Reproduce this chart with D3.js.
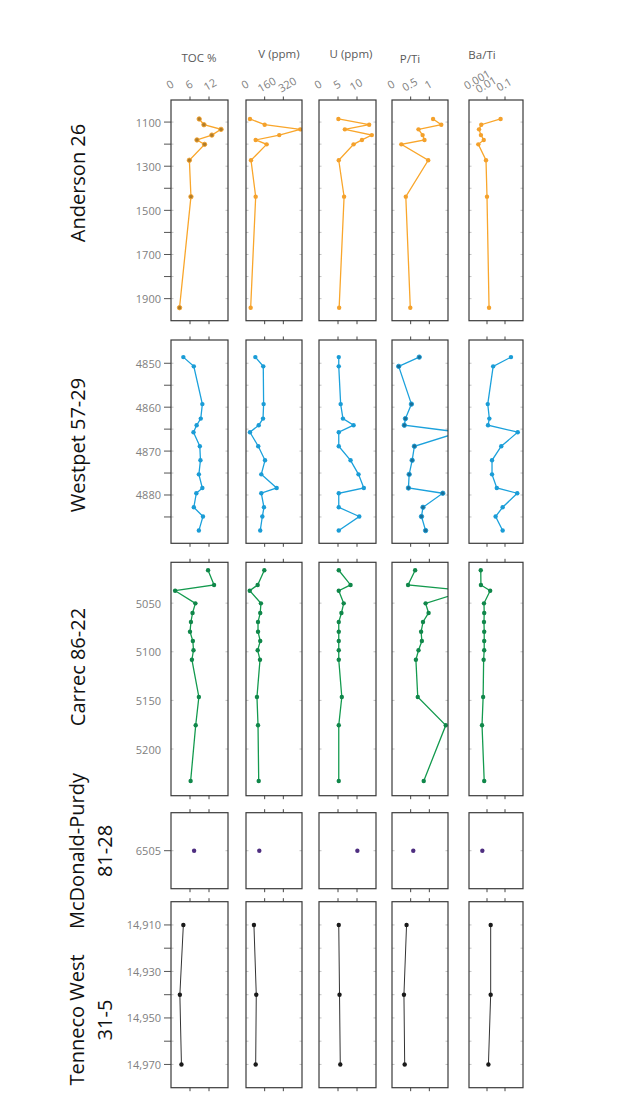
<!DOCTYPE html>
<html><head><meta charset="utf-8">
<script src="https://cdn.jsdelivr.net/npm/d3@7"></script>
<style>body{margin:0;background:#fff}svg text{font-family:"Open Sans",sans-serif}</style>
</head><body><svg id="c" width="620" height="1094"></svg>
<script>
// ---------- data ----------
const columns = ["TOC %", "V (ppm)", "U (ppm)", "P/Ti", "Ba/Ti"];
const xTickValues = [[0, 6, 12], [0, 160, 320], [0, 5, 10], [0, 0.5, 1], [0.001, 0.01, 0.1]];
const xTickLabels = [["0", "6", "12"], ["0", "160", "320"], ["0", "5", "10"], ["0", "0.5", "1"], ["0.001", "0.01", "0.1"]];
const xDomains = [[0, 18], [0, 480], [0, 15], [0, 1.5], [0.001, 1]];

const wellLabels = [["Anderson 26"], ["Westpet 57-29"], ["Carrec 86-22"], ["McDonald-Purdy", "81-28"], ["Tenneco West", "31-5"]];
const depthDomains = [[1000, 2000], [4844.7, 4891], [5008, 5248], [6500, 6510], [14900, 14980]];
const depthMajor = [[1100, 1300, 1500, 1700, 1900], [4850, 4860, 4870, 4880], [5050, 5100, 5150, 5200], [6505], [14910, 14930, 14950, 14970]];
const depthMinor = [[1200, 1400, 1600, 1800], [4855, 4865, 4875, 4885], [], [], [14920, 14940, 14960]];

const andersonDepth = [1086, 1112, 1133, 1159, 1181, 1201, 1273, 1438, 1941];
const andersonTOC = [8.9, 10.4, 15.8, 12.9, 8.2, 10.6, 5.8, 6.3, 2.7];
const andersonV = [34, 160, 465, 285, 83, 177, 43, 83, 40];
const andersonU = [5.1, 13.2, 6.8, 13.9, 11.3, 9.1, 5.2, 6.6, 5.3];
const andersonPTi = [1.10, 1.32, 0.71, 0.82, 0.87, 0.25, 0.97, 0.37, 0.49];
const andersonBaTi = [0.057, 0.0048, 0.0036, 0.0046, 0.0066, 0.0033, 0.0088, 0.010, 0.013];

const westpetDepth = [4848.6, 4850.7, 4859.3, 4862.6, 4864.1, 4865.7, 4868.9, 4872.1, 4875.3, 4878.4, 4879.6, 4882.8, 4884.9, 4888.1];
const westpetTOC = [3.9, 7.2, 9.9, 9.4, 8.1, 7.1, 9.1, 9.3, 8.8, 9.9, 8.0, 7.2, 10.1, 8.8];
const westpetV = [80, 148, 151, 146, 109, 34, 105, 163, 131, 263, 131, 154, 140, 122];
const westpetU = [5.2, 5.2, 5.7, 6.3, 9.1, 5.2, 5.2, 8.3, 10.4, 11.8, 5.2, 5.2, 10.6, 5.2];
const westpetPTi = [0.73, 0.18, 0.52, 0.36, 0.33, 1.8, 0.60, 0.54, 0.46, 0.44, 1.36, 0.83, 0.79, 0.90];
const westpetBaTi = [0.215, 0.022, 0.011, 0.0135, 0.0114, 0.51, 0.062, 0.019, 0.019, 0.035, 0.48, 0.074, 0.030, 0.074];

const carrecDepth = [5016.2, 5031.3, 5037.2, 5050.2, 5060.1, 5069.4, 5079.4, 5089, 5098.5, 5108.2, 5146.5, 5175.6, 5232.9];
const carrecTOC = [11.7, 13.6, 1.3, 7.7, 6.8, 6.3, 6.0, 6.9, 7.1, 6.6, 8.8, 7.8, 6.2];
const carrecV = [157, 100, 32, 128, 122, 103, 103, 122, 100, 120, 94, 103, 109];
const carrecU = [5.2, 8.3, 5.2, 6.5, 5.9, 5.2, 5.2, 5.2, 5.2, 5.2, 6.0, 5.2, 5.2];
const carrecPTi = [0.62, 0.43, 2.0, 0.90, 0.98, 0.83, 0.78, 0.80, 0.71, 0.64, 0.69, 1.44, 0.85];
const carrecBaTi = [0.0045, 0.0046, 0.015, 0.0068, 0.0070, 0.0068, 0.0070, 0.0070, 0.0070, 0.0065, 0.0061, 0.0053, 0.0070];

const mcdonaldDepth = [6505];
const mcdonaldTOC = [7.3];
const mcdonaldV = [114];
const mcdonaldU = [10.1];
const mcdonaldPTi = [0.57];
const mcdonaldBaTi = [0.0055];

const tennecoDepth = [14910, 14940, 14970];
const tennecoTOC = [3.9, 2.8, 3.3];
const tennecoV = [68, 88, 83];
const tennecoU = [5.2, 5.4, 5.6];
const tennecoPTi = [0.39, 0.32, 0.34];
const tennecoBaTi = [0.016, 0.016, 0.012];

// ---------- layout & styles ----------
const wells = [
  {depth: andersonDepth, series: [andersonTOC, andersonV, andersonU, andersonPTi, andersonBaTi]},
  {depth: westpetDepth, series: [westpetTOC, westpetV, westpetU, westpetPTi, westpetBaTi]},
  {depth: carrecDepth, series: [carrecTOC, carrecV, carrecU, carrecPTi, carrecBaTi]},
  {depth: mcdonaldDepth, series: [mcdonaldTOC, mcdonaldV, mcdonaldU, mcdonaldPTi, mcdonaldBaTi]},
  {depth: tennecoDepth, series: [tennecoTOC, tennecoV, tennecoU, tennecoPTi, tennecoBaTi]}
];
const colX = [171, 246, 319, 392, 469];
const colW = [57, 56, 57, 56, 54];
const rowY = [[100, 320.7], [340, 543.3], [562.3, 795.7], [812.7, 888.7], [901.7, 1087.7]];
const lineColor = ["#F9A62B", "#1BA1DC", "#139A4E", "#4E2E80", "#333333"];
const dotColor = ["#F4A12C", "#1A9CD6", "#10874A", "#4E2E80", "#1a1a1a"];
const outerTicks = [true, true, false, true, true];
const labelY = [183, 445, 667, 851, 1020];
const tickLabelDx = [[0, 0, 2], [0, 3, 5], [0, 0, 0], [0, 0, 0], [9, 0, 0]];
const tickLabelDy = [[0, 0, 0], [0, 0, 0], [0, 0, 0], [0, 0, 0], [-5, 0, 0]];

const svg = d3.select("#c");

// headers
const headerPos = [[199, 57], [279, 53], [351, 53], [410, 58], [482, 54]];
columns.forEach((c, i) => {
  svg.append("text").attr("x", headerPos[i][0]).attr("y", headerPos[i][1])
    .attr("text-anchor", "middle").attr("dominant-baseline", "central")
    .attr("font-size", 11.5).attr("fill", "#595959").text(c);
});

wells.forEach((w, r) => {
  const [y0, y1] = rowY[r];
  const y = d3.scaleLinear().domain(depthDomains[r]).range([y0, y1]);

  // depth axis labels & ticks
  const gy = svg.append("g");
  depthMajor[r].forEach(v => {
    gy.append("text").attr("x", 161).attr("y", y(v)).attr("text-anchor", "end")
      .attr("dominant-baseline", "central").attr("font-size", 11).attr("fill", "#808080")
      .text(v >= 10000 ? d3.format(",")(v) : v);
    if (outerTicks[r]) gy.append("line").attr("x1", 164).attr("x2", colX[0]).attr("y1", y(v)).attr("y2", y(v)).attr("stroke", "#555").attr("stroke-width", 1);
  });
  if (outerTicks[r]) depthMinor[r].forEach(v => {
    gy.append("line").attr("x1", 164).attr("x2", colX[0]).attr("y1", y(v)).attr("y2", y(v)).attr("stroke", "#555").attr("stroke-width", 1);
  });

  // well label
  const lines = wellLabels[r];
  const lt = svg.append("text").attr("transform", `translate(${lines.length > 1 ? 90 : 77},${labelY[r]}) rotate(-90)`)
    .attr("text-anchor", "middle").attr("font-size", 20).attr("fill", "#111");
  lines.forEach((t, k) => {
    lt.append("tspan").attr("x", 0).attr("y", (k - (lines.length - 1) / 2) * 28).attr("dominant-baseline", "central").text(t);
  });

  w.series.forEach((vals, c) => {
    const x = (c === 4 ? d3.scaleLog() : d3.scaleLinear()).domain(xDomains[c]).range([colX[c], colX[c] + colW[c]]);
    const g = svg.append("g");
    const clipId = `clip-${r}-${c}`;
    svg.append("clipPath").attr("id", clipId).append("rect")
      .attr("x", colX[c]).attr("y", y0).attr("width", colW[c]).attr("height", y1 - y0);

    // inner depth ticks on panel edges
    depthMajor[r].concat(depthMinor[r]).forEach(v => {
      g.append("line").attr("x1", colX[c]).attr("x2", colX[c] + 2.5).attr("y1", y(v)).attr("y2", y(v)).attr("stroke", "#aaa").attr("stroke-width", 0.7);
      g.append("line").attr("x1", colX[c] + colW[c] - 2.5).attr("x2", colX[c] + colW[c]).attr("y1", y(v)).attr("y2", y(v)).attr("stroke", "#aaa").attr("stroke-width", 0.7);
    });

    // x ticks top & bottom
    xTickValues[c].forEach((v, k) => {
      if (k === 0) return;
      g.append("line").attr("x1", x(v)).attr("x2", x(v)).attr("y1", y0 - 3.5).attr("y2", y0).attr("stroke", "#444").attr("stroke-width", 1);
      g.append("line").attr("x1", x(v)).attr("x2", x(v)).attr("y1", y1).attr("y2", y1 + 3.5).attr("stroke", "#444").attr("stroke-width", 1);
    });
    if (r === 0) {
      xTickValues[c].forEach((v, k) => {
        svg.append("text").attr("transform", `translate(${x(v) + 1 + tickLabelDx[c][k]},${88 + tickLabelDy[c][k]}) rotate(-30)`)
          .attr("text-anchor", "middle").attr("font-size", 11).attr("fill", "#7f7f7f").text(xTickLabels[c][k]);
      });
    }

    const data = vals.map((v, i) => [v, w.depth[i]]);
    const pg = g.append("g").attr("clip-path", `url(#${clipId})`);
    if (data.length > 1) {
      pg.append("path").datum(data)
        .attr("d", d3.line().x(d => x(d[0])).y(d => y(d[1])))
        .attr("fill", "none").attr("stroke", lineColor[r]).attr("stroke-width", r === 4 ? 1 : 1.3);
    }
    const special = (r === 0 && c === 0) || (r === 1 && c === 3);
    pg.selectAll("circle").data(data).join("circle")
      .attr("cx", d => x(d[0])).attr("cy", d => y(d[1]))
      .attr("r", 2.2)
      .attr("fill", special ? (r === 0 ? "#b07d2a" : "#1a6f98") : dotColor[r])
      .attr("stroke", special ? dotColor[r] : "none")
      .attr("stroke-width", 0.9);

    // frame
    g.append("rect").attr("x", colX[c]).attr("y", y0).attr("width", colW[c]).attr("height", y1 - y0)
      .attr("fill", "none").attr("stroke", "#3a3a3a").attr("stroke-width", 1.2);
  });
});
</script></body></html>
